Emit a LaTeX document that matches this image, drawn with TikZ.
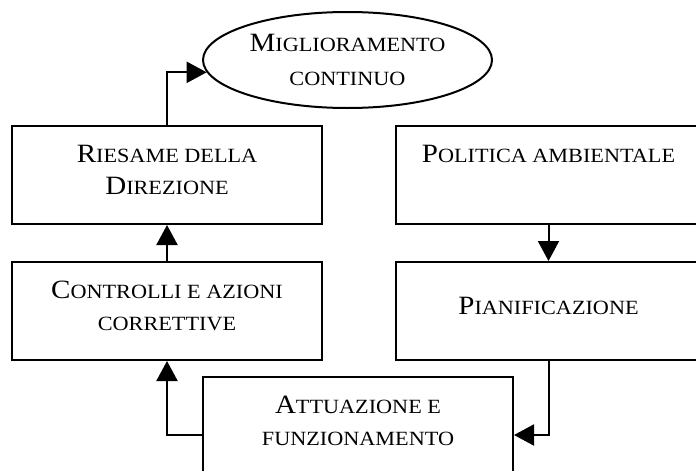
\documentclass[tikz,border=0pt]{standalone}
\usepackage{fontspec}
\setmainfont{Liberation Serif}[FakeStretch=1.1]
\usetikzlibrary{arrows.meta, shapes.geometric}
\newcommand{\sm}[1]{{\fontsize{10.1}{16}\selectfont #1}}
\tikzset{box/.style = {shape=rectangle,draw,line width=1pt,minimum width=155pt,minimum height=49pt,align=center,font=\fontsize{13.2}{16}\selectfont,execute at end node={\rule[-5pt]{0pt}{5pt}}}}
\tikzset{goal/.style = {shape=ellipse,draw,line width=1pt,inner sep=0pt,minimum width=144.5pt,minimum height=48pt,align=center,font=\fontsize{13.2}{16}\selectfont}}
\tikzset{edge/.style = {-{Triangle[length=10pt,width=10.5pt]},line width=1pt}}

\begin{document}
\begin{tikzpicture}[x=0.5pt,y=-0.5pt]
        \clip (0,0) rectangle (696,471);
        \node[goal] (migl) at (347.5,60) {M\sm{IGLIORAMENTO}\\[1pt]\sm{CONTINUO}};
        \node[box] (ries) at (167,175) {R\sm{IESAME DELLA}\\D\sm{IREZIONE}};
        \draw[edge] (ries.north) |- (migl.185);
        \node[box,minimum width=152.5pt] (poli) at (548.5,175) {P\sm{OLITICA AMBIENTALE}\\ \mbox{}};
        \node[box] (cont) at (167,311) {C\sm{ONTROLLI E AZIONI}\\\sm{CORRETTIVE}};
        \draw[edge] (cont.north) -- (ries.south);
        \node[box,minimum width=152.5pt] (pian) at (548.5,311) {P\sm{IANIFICAZIONE}};
        \draw[edge] (poli.south) -- (pian.north);
        \node[box] (attu) at (358,426) {A\sm{TTUAZIONE E}\\\sm{FUNZIONAMENTO}};
        \draw[edge] (pian.south) |- ([yshift=-4.5pt]attu.east);
        \draw[edge] ([yshift=-4.5pt]attu.west) -| (cont.south);
    \end{tikzpicture}
\end{document}
